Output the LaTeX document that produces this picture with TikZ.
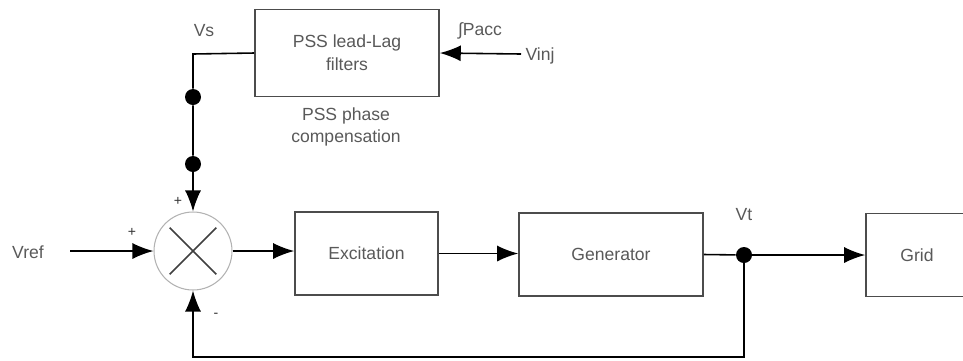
\documentclass[tikz,border=0pt]{standalone}
\usepackage{fontspec}
\setmainfont{Liberation Sans}
\usetikzlibrary{shapes,arrows,positioning,calc,arrows.meta}

\begin{document}
\begin{tikzpicture}[
    x=0.02cm, y=-0.02cm,
    font=\fontsize{10}{13}\selectfont, text=black!65,
    block/.style={
      rectangle, draw=black!70, line width=0.9pt, minimum height=1.66cm,
      fill=white, align=center
    },
    summer/.style={circle, draw=black!30, line width=0.6pt, minimum size=1.56cm, inner sep=0pt},
    junction/.style={circle, fill=black, minimum size=0.32cm, inner sep=0pt},
    signal/.style={-{Latex[length=4.2mm,width=3.2mm]}, line width=0.9pt},
    wire/.style={line width=0.9pt},
    sign/.style={font=\fontsize{8}{9}\selectfont, text=black!80}
  ]
  \useasboundingbox (0,0) rectangle (963,360);
  \clip (0,0) rectangle (963,360);
  \node[summer] (sum) at (193,251) {};
  \draw[line width=0.9pt, black!75] ($(sum.center)+(45:0.66cm)$) -- ($(sum.center)+(225:0.66cm)$);
  \draw[line width=0.9pt, black!75] ($(sum.center)+(135:0.66cm)$) -- ($(sum.center)+(315:0.66cm)$);
  \node[block, minimum width=3.68cm, minimum height=1.74cm] (pss) at (347,53) {PSS lead-Lag\\filters};
  \node[block, minimum width=2.86cm] (exc) at (366.5,253.5) {Excitation};
  \node[block, minimum width=3.68cm] (gen) at (611,254.5) {Generator};
  \node[block, minimum width=2.04cm] (grid) at (917,255) {Grid};
  \node[junction] (vt) at (744,255) {};
  \node[junction] (dota) at (193,97) {};
  \node[junction] (dotb) at (193,164) {};
  \coordinate (vsbend) at (193,54);
  \coordinate (vrefin) at (70,251);
  \coordinate (vinjin) at (521,54);
  \coordinate (fbend) at (744,357);
  \node (vref) at (28,252) {Vref};
  \node (vinj) at (540,56) {Vinj};
  \node (vs) at (204,31) {Vs};
  \node (pacc) at (480,31) {∫Pacc};
  \node (vtlabel) at (744,215) {Vt};
  \node[align=center] (phase) at (346,127) {PSS phase\\compensation};
  \node[sign] at (132,232) {+};
  \node[sign] at (178,201) {+};
  \node[sign] at (216,315) {-};
  \draw[wire] (pss.west) -- (vsbend) -- (dota) -- (dotb);
  \draw[signal] (dotb) -- (sum.north);
  \draw[signal] (vinjin) -- (pss.east);
  \draw[signal] (vrefin) -- (sum.west);
  \draw[signal] (sum.east) -- (sum.east -| exc.west);
  \draw[signal] (exc.east) -- (exc.east -| gen.west);
  \draw[wire] (gen.east) -- (vt);
  \draw[signal] (vt) -- (grid.west);
  \draw[signal] (vt) -- (fbend) -| (sum.south);
\end{tikzpicture}
\end{document}
